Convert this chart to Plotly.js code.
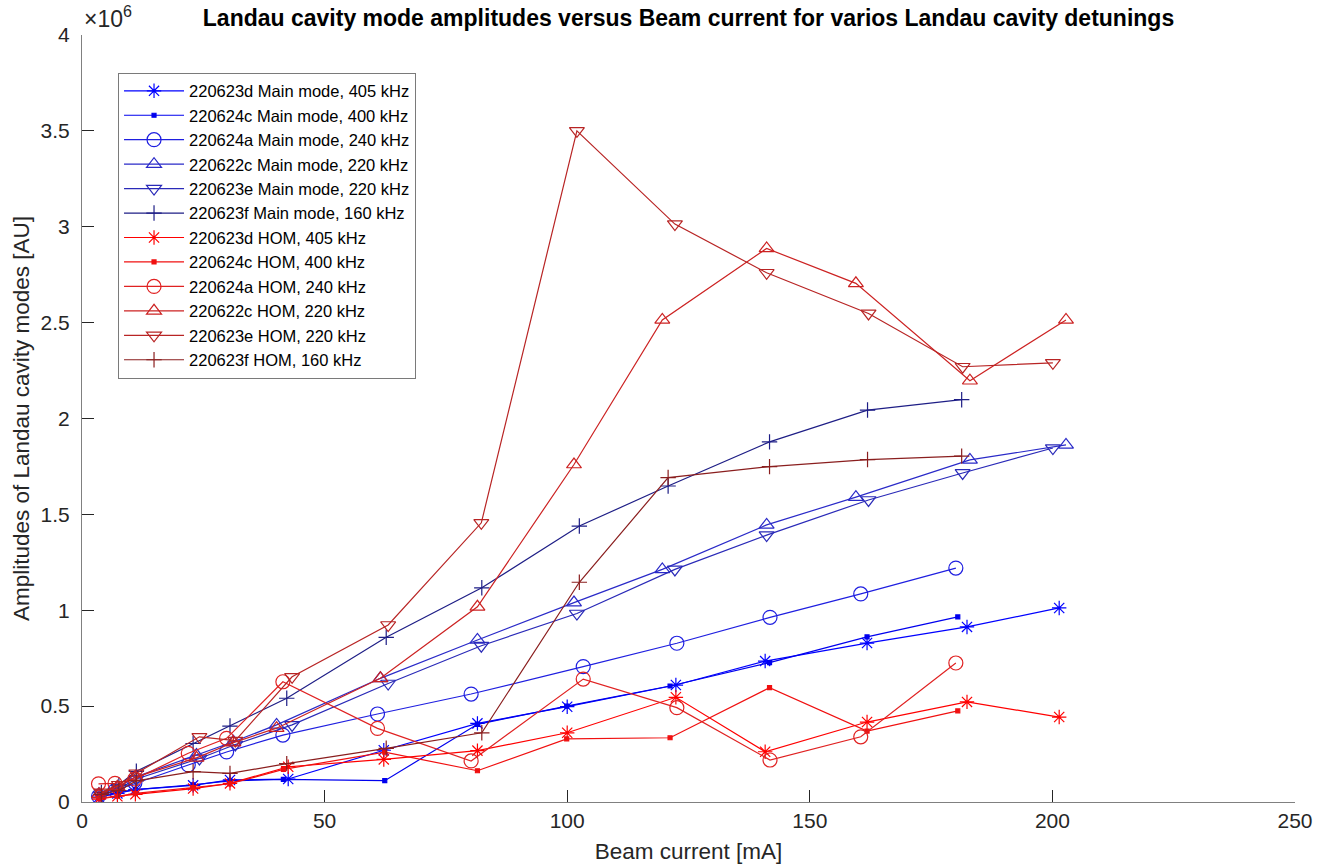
<!DOCTYPE html>
<html>
<head>
<meta charset="utf-8">
<script src="https://cdn.plot.ly/plotly-3.0.1.min.js"></script>
<style>
  html, body { margin: 0; padding: 0; background: #ffffff; }
  #chart { width: 1317px; height: 868px; }
</style>
</head>
<body>
<div id="chart"></div>
<script>
// Beam currents [mA] per measurement run
const current_220623d = [3.5, 7.3, 11, 22.9, 30.5, 42.5, 62.2, 81.5, 100, 122.4, 140.8, 161.8, 182.4, 201.4];
const current_220624c = [3.5, 7.3, 11, 22.9, 30.5, 41.5, 62.4, 81.5, 99.9, 121.2, 141.7, 161.8, 180.5];
const current_220624a = [3.4, 6.8, 10.9, 21.9, 29.8, 41.4, 60.9, 80.2, 103.3, 122.6, 141.8, 160.5, 180.1];
const current_220622c = [3.5, 7.3, 11, 23.6, 31.2, 40.1, 61.5, 81.5, 101.4, 119.6, 141.1, 159.5, 183, 202.8];
const current_220623e = [4, 7.6, 11.2, 24.2, 31.6, 43.3, 63.1, 82.3, 102, 122.2, 141.1, 162.1, 181.5, 200.1];
const current_220623f = [4, 7.6, 11.2, 22.9, 30.5, 42.2, 62.7, 82.4, 102.5, 120.8, 141.7, 161.9, 181.3];

// Main mode amplitudes [AU, x10^6]
const main_220623d = [0.025, 0.045, 0.065, 0.087, 0.115, 0.12, 0.27, 0.41, 0.497, 0.61, 0.735, 0.829, 0.913, 1.012];
const main_220624c = [0.025, 0.05, 0.065, 0.09, 0.11, 0.118, 0.111, 0.405, 0.5, 0.605, 0.727, 0.861, 0.965];
const main_220624a = [0.03, 0.06, 0.1, 0.193, 0.261, 0.349, 0.459, 0.563, 0.706, 0.828, 0.963, 1.085, 1.22];
const main_220622c = [0.04, 0.075, 0.13, 0.245, 0.314, 0.402, 0.645, 0.845, 1.04, 1.213, 1.445, 1.59, 1.784, 1.862];
const main_220623e = [0.035, 0.07, 0.12, 0.227, 0.3, 0.402, 0.618, 0.815, 0.983, 1.213, 1.392, 1.575, 1.716, 1.846];
const main_220623f = [0.05, 0.09, 0.16, 0.305, 0.396, 0.541, 0.859, 1.117, 1.439, 1.648, 1.878, 2.044, 2.098];

// HOM amplitudes [AU, x10^6]
const hom_220623d = [0.015, 0.03, 0.04, 0.07, 0.097, 0.184, 0.222, 0.268, 0.361, 0.546, 0.262, 0.417, 0.522, 0.443];
const hom_220624c = [0.02, 0.03, 0.045, 0.075, 0.095, 0.17, 0.26, 0.163, 0.329, 0.335, 0.596, 0.37, 0.475];
const hom_220624a = [0.095, 0.097, 0.12, 0.254, 0.332, 0.627, 0.384, 0.214, 0.641, 0.492, 0.219, 0.34, 0.725];
const hom_220622c = [0.04, 0.08, 0.13, 0.23, 0.31, 0.385, 0.645, 1.018, 1.76, 2.514, 2.887, 2.705, 2.197, 2.514];
const hom_220623e = [0.05, 0.09, 0.15, 0.34, 0.32, 0.653, 0.923, 1.456, 3.5, 3.014, 2.76, 2.548, 2.27, 2.29];
const hom_220623f = [0.04, 0.06, 0.11, 0.158, 0.149, 0.2, 0.28, 0.361, 1.146, 1.692, 1.749, 1.786, 1.804];

const runs = ['220623d', '220624c', '220624a', '220622c', '220623e', '220623f'];
const detunings = ['405 kHz', '400 kHz', '240 kHz', '220 kHz', '220 kHz', '160 kHz'];
const currents = [current_220623d, current_220624c, current_220624a, current_220622c, current_220623e, current_220623f];
const mainValues = [main_220623d, main_220624c, main_220624a, main_220622c, main_220623e, main_220623f];
const homValues = [hom_220623d, hom_220624c, hom_220624a, hom_220622c, hom_220623e, hom_220623f];

const mainColors = ['#0000ff', '#0000ee', '#1f1fe0', '#2a2ac8', '#2a2ab8', '#1e1e86'];
const homColors = ['#ff0000', '#f01010', '#e02222', '#cc2222', '#b82424', '#8a1e1e'];
const symbols = ['asterisk-open', 'square', 'circle-open', 'triangle-up-open', 'triangle-down-open', 'cross-thin-open'];
const sizes = [12, 4, 14, 13, 13, 11];

const FONT = 'Liberation Sans, Arial, Helvetica, sans-serif';

function makeTrace(i, values, colors, kind) {
  return {
    type: 'scatter',
    mode: 'lines+markers',
    x: currents[i],
    y: values[i],
    name: runs[i] + ' ' + kind + ', ' + detunings[i],
    legendgroup: kind + i,
    line: { color: colors[i], width: 1.2 },
    marker: {
      symbol: symbols[i],
      size: sizes[i],
      color: colors[i],
      line: { color: colors[i], width: 1.2 }
    }
  };
}

const traces = [];
runs.forEach((r, i) => traces.push(makeTrace(i, mainValues, mainColors, 'Main mode')));
runs.forEach((r, i) => traces.push(makeTrace(i, homValues, homColors, 'HOM')));

const axisCommon = {
  showgrid: false,
  zeroline: false,
  showline: true,
  linecolor: '#808080',
  linewidth: 1,
  ticks: 'inside',
  ticklen: 12,
  tickwidth: 1,
  tickcolor: '#262626',
  tickfont: { family: FONT, size: 21, color: '#262626' },
  mirror: false
};

const layout = {
  width: 1317,
  height: 868,
  paper_bgcolor: '#ffffff',
  plot_bgcolor: '#ffffff',
  margin: { l: 82, r: 22, t: 35, b: 66 },
  title: {
    text: '<b>Landau cavity mode amplitudes versus Beam current for varios Landau cavity detunings</b>',
    font: { family: FONT, size: 23, color: '#000000' },
    x: 0.5, xanchor: 'center', xref: 'paper',
    y: 0.979, yanchor: 'middle'
  },
  xaxis: Object.assign({}, axisCommon, {
    range: [0, 250],
    dtick: 50,
    tick0: 0,
    title: { text: 'Beam current [mA]', font: { family: FONT, size: 22.5, color: '#262626' }, standoff: 12 }
  }),
  yaxis: Object.assign({}, axisCommon, {
    range: [0, 4],
    dtick: 0.5,
    tick0: 0,
    ticklabelstandoff: 7,
    title: { text: 'Amplitudes of Landau cavity modes [AU]', font: { family: FONT, size: 22.5, color: '#262626' }, standoff: 4 }
  }),
  legend: {
    x: 0.0297, y: 0.951, xanchor: 'left', yanchor: 'top',
    bgcolor: '#ffffff',
    bordercolor: '#7a7a7a',
    borderwidth: 1,
    font: { family: FONT, size: 16.5, color: '#000000' },
    itemwidth: 60,
    tracegroupgap: 2.7,
    traceorder: 'normal'
  },
  annotations: [{
    xref: 'paper', yref: 'paper', x: 0, y: 1,
    xanchor: 'left', yanchor: 'bottom', yshift: 1,
    text: '×10<sup>6</sup>',
    showarrow: false,
    font: { family: FONT, size: 23, color: '#262626' }
  }],
  showlegend: true
};

Plotly.newPlot('chart', traces, layout, { staticPlot: true, displayModeBar: false });
</script>
</body>
</html>
